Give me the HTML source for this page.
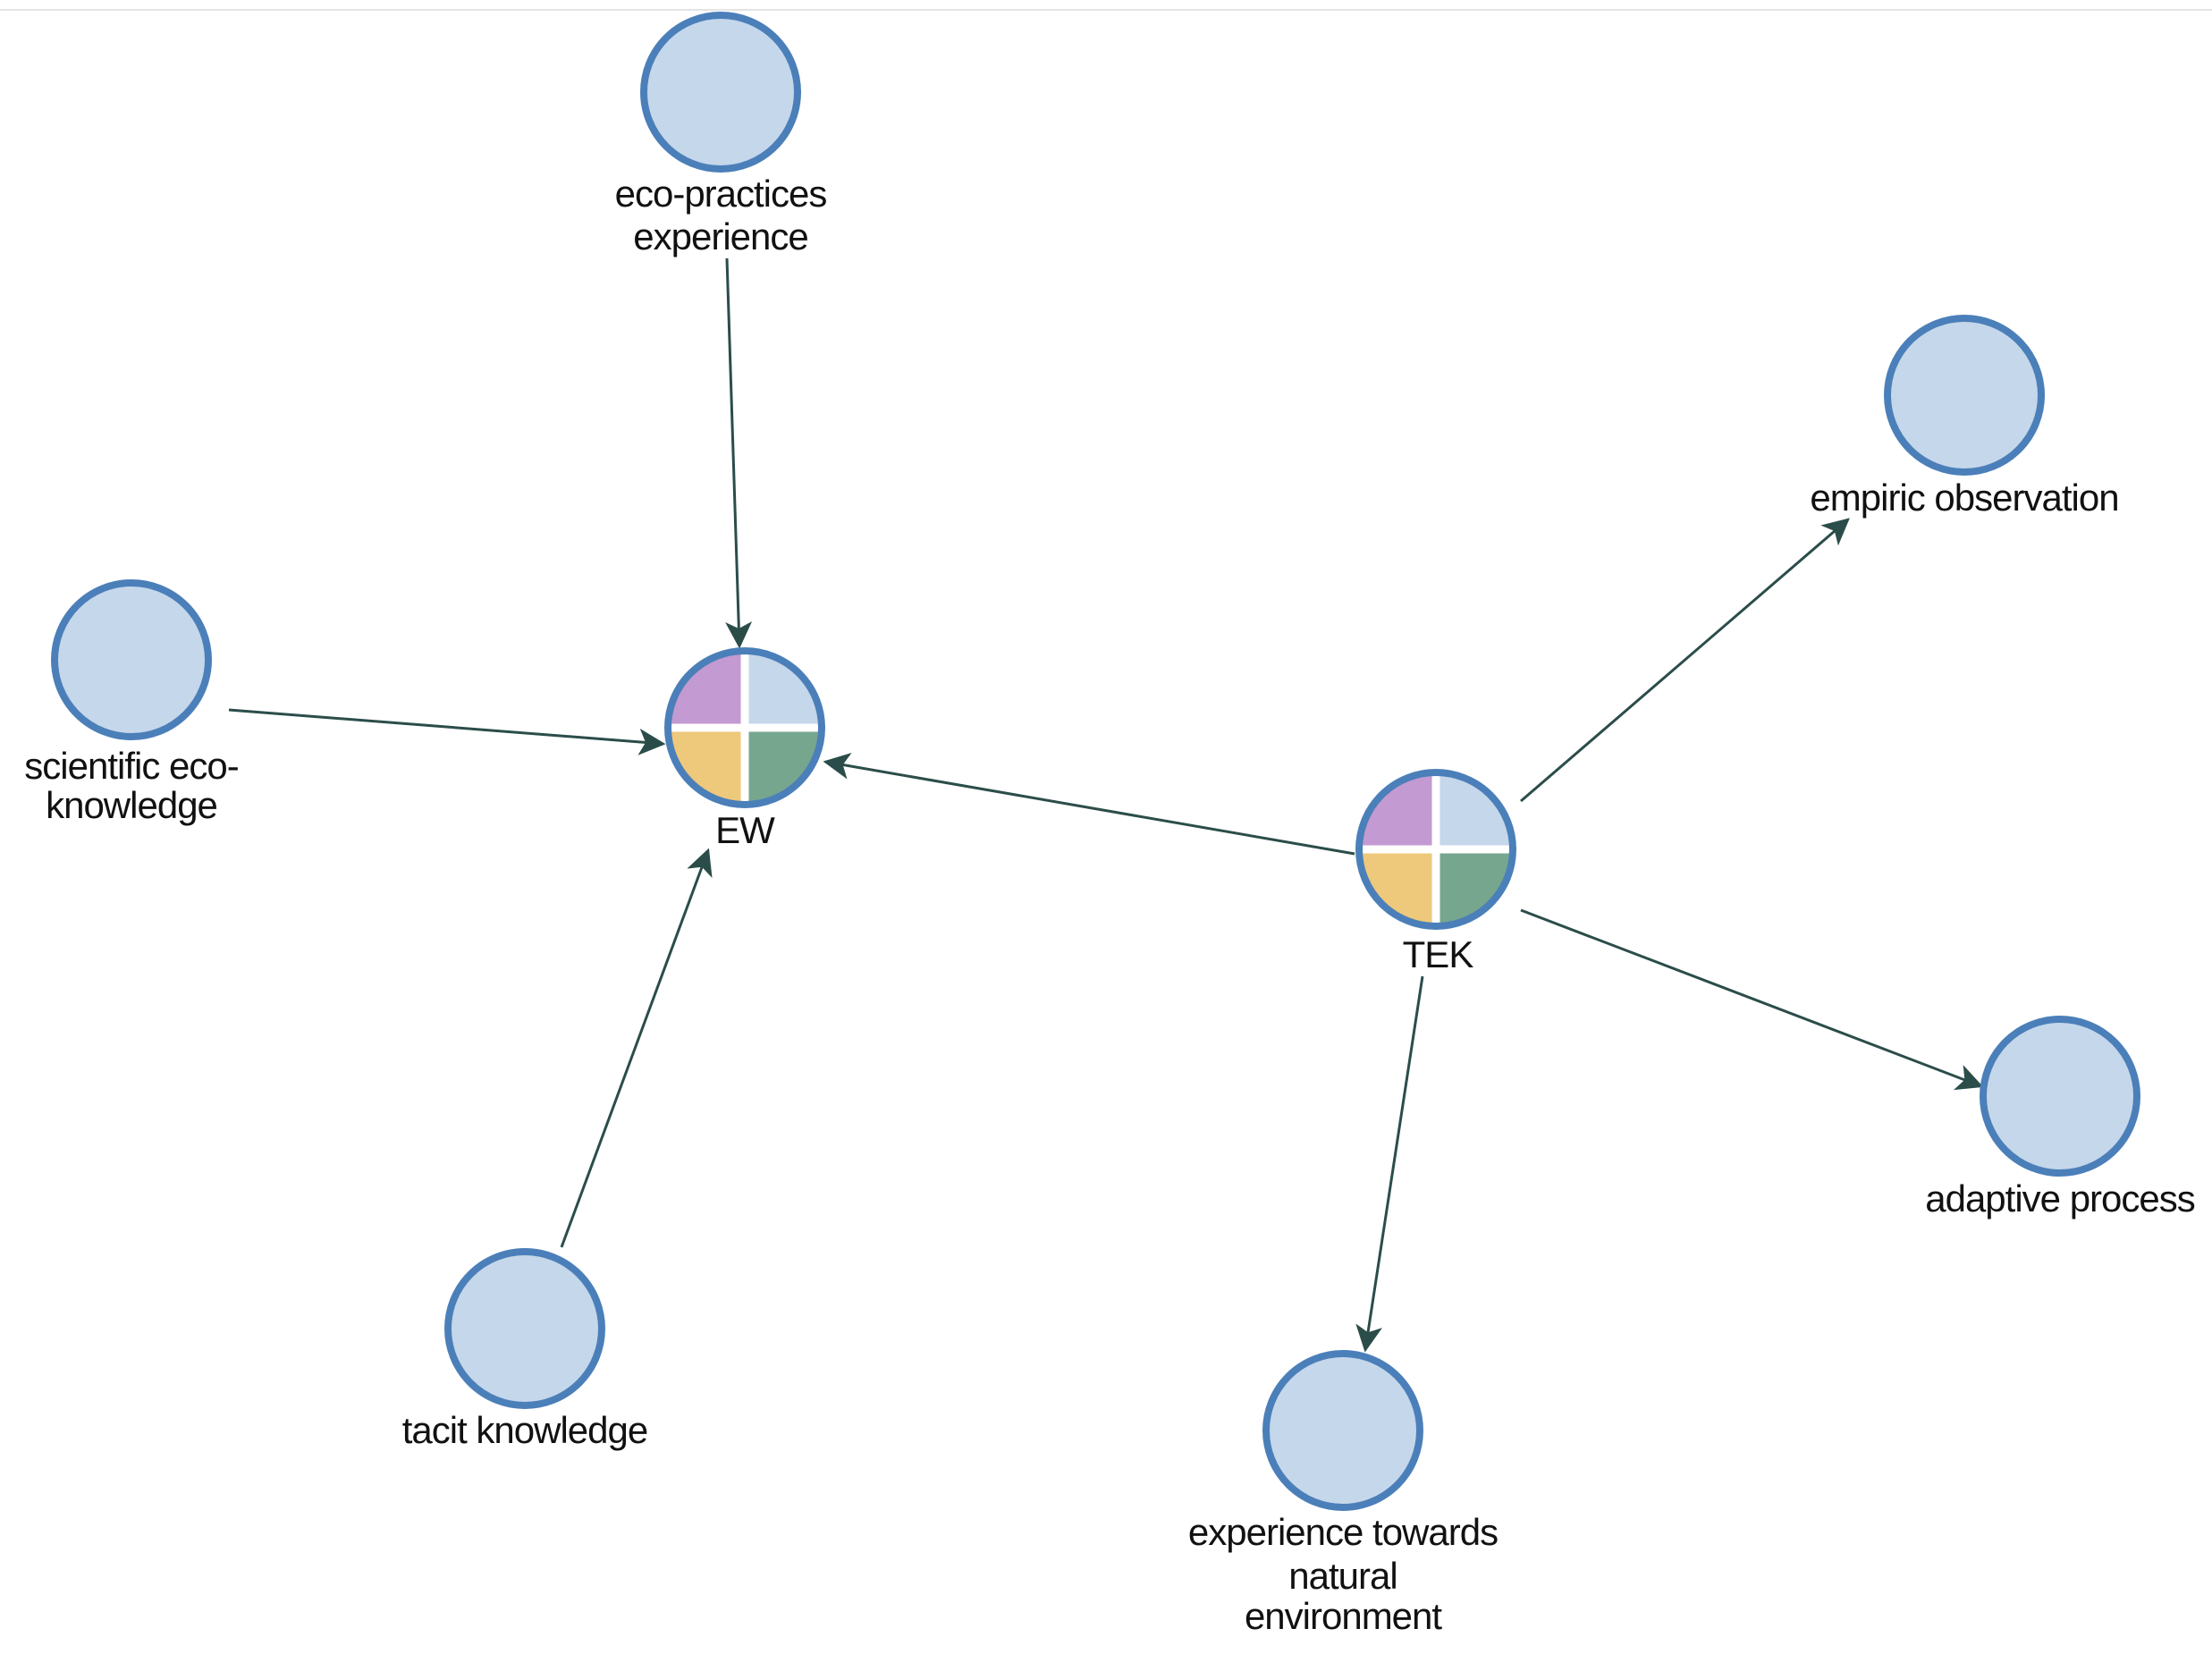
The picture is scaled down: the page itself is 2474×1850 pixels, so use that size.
<!DOCTYPE html>
<html><head><meta charset="utf-8"><style>
html,body{margin:0;padding:0;background:#fff;}
svg{display:block;}
text{font-family:"Liberation Sans",Arial,sans-serif;font-size:42px;fill:#111;text-anchor:middle;letter-spacing:-1px;}
</style></head><body>
<svg width="2474" height="1850" viewBox="0 0 2474 1850" xmlns="http://www.w3.org/2000/svg">
<defs>
<marker id="ah" viewBox="0 0 12 12" refX="11" refY="6" markerWidth="30" markerHeight="30" orient="auto" markerUnits="userSpaceOnUse">
<path d="M0,0 L12,6 L0,12 L3,6 Z" fill="#2b4d4a"/>
</marker>
<clipPath id="c1"><circle cx="833" cy="814" r="84"/></clipPath>
<clipPath id="c2"><circle cx="1606" cy="950" r="84"/></clipPath>
</defs>
<line x1="0" y1="11" x2="2474" y2="11" stroke="#e4e4e4" stroke-width="2"/>
<g stroke="#2b4d4a" stroke-width="3" fill="none" marker-end="url(#ah)">
<line x1="813" y1="289" x2="827" y2="723"/>
<line x1="256" y1="794" x2="742" y2="832"/>
<line x1="628" y1="1395" x2="792" y2="951"/>
<line x1="1515" y1="955" x2="923" y2="852"/>
<line x1="1701" y1="896" x2="2067" y2="581"/>
<line x1="1701" y1="1018" x2="2216" y2="1215"/>
<line x1="1591" y1="1092" x2="1527" y2="1510"/>
</g>
<g fill="#c5d7ea" stroke="#4b7fb9" stroke-width="8">
<circle cx="806" cy="103" r="86"/>
<circle cx="2197" cy="442" r="86"/>
<circle cx="147" cy="738" r="86"/>
<circle cx="2304" cy="1226" r="86"/>
<circle cx="587" cy="1486" r="86"/>
<circle cx="1502" cy="1600" r="86"/>
</g>
<g clip-path="url(#c1)">
<rect x="733" y="714" width="100" height="100" fill="#c39ad1"/>
<rect x="833" y="714" width="100" height="100" fill="#c5d7ea"/>
<rect x="733" y="814" width="100" height="100" fill="#eec87b"/>
<rect x="833" y="814" width="100" height="100" fill="#77a68f"/>
<line x1="833" y1="714" x2="833" y2="914" stroke="#fff" stroke-width="9"/>
<line x1="733" y1="814" x2="933" y2="814" stroke="#fff" stroke-width="9"/>
</g>
<circle cx="833" cy="814" r="86" fill="none" stroke="#4b7fb9" stroke-width="8"/>
<g clip-path="url(#c2)">
<rect x="1506" y="850" width="100" height="100" fill="#c39ad1"/>
<rect x="1606" y="850" width="100" height="100" fill="#c5d7ea"/>
<rect x="1506" y="950" width="100" height="100" fill="#eec87b"/>
<rect x="1606" y="950" width="100" height="100" fill="#77a68f"/>
<line x1="1606" y1="850" x2="1606" y2="1050" stroke="#fff" stroke-width="9"/>
<line x1="1506" y1="950" x2="1706" y2="950" stroke="#fff" stroke-width="9"/>
</g>
<circle cx="1606" cy="950" r="86" fill="none" stroke="#4b7fb9" stroke-width="8"/>
<text x="806" y="231">eco-practices</text>
<text x="806" y="279">experience</text>
<text x="2197" y="571">empiric observation</text>
<text x="147" y="871">scientific eco-</text>
<text x="147" y="915">knowledge</text>
<text x="833" y="943">EW</text>
<text x="1608" y="1082">TEK</text>
<text x="2304" y="1355">adaptive process</text>
<text x="587" y="1614">tacit knowledge</text>
<text x="1502" y="1728">experience towards</text>
<text x="1502" y="1777">natural</text>
<text x="1502" y="1822">environment</text>
</svg>
</body></html>
